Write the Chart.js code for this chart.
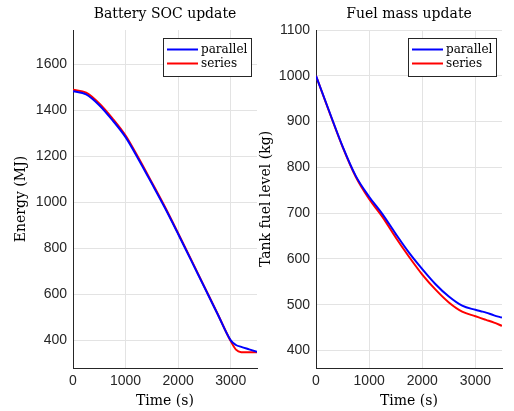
<!DOCTYPE html>
<html>
<head>
<meta charset="utf-8">
<script src="https://cdn.jsdelivr.net/npm/chart.js@4/dist/chart.umd.min.js"></script>
<style>
  body { margin: 0; background: #fff; }
  #wrap { position: relative; width: 514px; height: 411px; }
  .box { position: absolute; top: 0; height: 411px; }
</style>
</head>
<body>
<div id="wrap">
  <div class="box" style="left:0; width:262px;"><canvas id="soc"></canvas></div>
  <div class="box" style="left:257px; width:257px;"><canvas id="fuel"></canvas></div>
</div>
<script>
// data
const time = [0, 250, 500, 750, 1000, 1250, 1500, 1750, 2000, 2250, 2500, 2750, 3000, 3100, 3200, 3350, 3500];
const energyParallel = [1484, 1470, 1423, 1358, 1284, 1186, 1082, 976, 863, 747, 631, 515, 400, 380, 372, 361, 350];
const energySeries = [1490, 1478, 1431, 1366, 1291, 1192, 1087, 980, 866, 750, 633, 516, 397, 360, 349, 348, 348];
const fuelParallel = [1000, 922, 846, 781, 736, 698, 655, 614, 578, 545, 518, 498, 489, 486, 483, 477, 472];
const fuelSeries = [1000, 921, 845, 779, 731, 692, 647, 605, 566, 533, 505, 485, 475, 471, 467, 461, 454];

const timeTicks = [0, 1000, 2000, 3000];
const energyTicks = [400, 600, 800, 1000, 1200, 1400, 1600];
const fuelTicks = [400, 500, 600, 700, 800, 900, 1000, 1100];

const axisColor = "#262626";
const gridColor = "#e3e3e3";
const serif = "DejaVu Serif";

// legend drawn inside the plot, top right, MATLAB style
const insideLegend = {
    id: "insideLegend",
    afterDatasetsDraw(chart, args, opts) {
        const { ctx, chartArea } = chart;
        const w = 89, h = 39;
        const x = Math.round(chartArea.right - opts.right - w);
        const y = Math.round(chartArea.top + 8);
        ctx.save();
        ctx.fillStyle = "#fff";
        ctx.fillRect(x, y, w, h);
        ctx.strokeStyle = axisColor;
        ctx.lineWidth = 1;
        ctx.strokeRect(x + 0.5, y + 0.5, w - 1, h - 1);
        ctx.font = "12px '" + serif + "'";
        ctx.textBaseline = "middle";
        chart.data.datasets.forEach((ds, i) => {
            const cy = y + 11.5 + i * 14;
            ctx.strokeStyle = ds.borderColor;
            ctx.lineWidth = 2;
            ctx.beginPath();
            ctx.moveTo(x + 4, cy);
            ctx.lineTo(x + 35, cy);
            ctx.stroke();
            ctx.fillStyle = "#000";
            ctx.fillText(ds.label, x + 38, cy);
        });
        ctx.restore();
    }
};

function makeChart(id, title, yLabel, parallel, series, yMin, yMax, yTicks, yWidth, yTitlePad, padRight) {
    const ctx = document.getElementById(id).getContext("2d");
    return new Chart(ctx, {
        type: "line",
        data: {
            labels: time,
            datasets: [
                { label: "parallel", data: parallel, borderColor: "#0000ff", borderWidth: 2, pointRadius: 0, cubicInterpolationMode: "monotone" },
                { label: "series", data: series, borderColor: "#ff0000", borderWidth: 2, pointRadius: 0, cubicInterpolationMode: "monotone" }
            ]
        },
        options: {
            responsive: true,
            maintainAspectRatio: false,
            animation: false,
            layout: { padding: { left: 0, right: padRight, top: 0, bottom: 0 } },
            plugins: {
                legend: { display: false },
                tooltip: { enabled: false },
                title: {
                    display: true,
                    text: title,
                    fullSize: false,
                    color: "#000",
                    font: { family: serif, size: 14, weight: "normal", lineHeight: 1.2 },
                    padding: { top: 6.2, bottom: 7 }
                },
                insideLegend: { right: 5 }
            },
            scales: {
                x: {
                    type: "linear",
                    min: 0,
                    max: 3500,
                    afterBuildTicks: s => { s.ticks = timeTicks.map(v => ({ value: v })); },
                    afterFit: s => { s.height = 43; },
                    grid: { color: gridColor, drawTicks: false },
                    border: { color: axisColor, width: 1 },
                    ticks: { color: axisColor, padding: 5, maxRotation: 0, callback: v => String(v), font: { family: "Liberation Sans", size: 14 } },
                    title: { display: true, text: "Time (s)", color: "#000", padding: { top: 0, bottom: 1.6 }, font: { family: serif, size: 14, lineHeight: 1.2 } }
                },
                y: {
                    min: yMin,
                    max: yMax,
                    afterBuildTicks: s => { s.ticks = yTicks.map(v => ({ value: v })); },
                    afterFit: s => { s.width = yWidth; },
                    grid: { color: gridColor, drawTicks: false },
                    border: { color: axisColor, width: 1 },
                    ticks: { color: axisColor, padding: 6, callback: v => String(v), font: { family: "Liberation Sans", size: 14 } },
                    title: { display: true, text: yLabel, color: "#000", padding: { top: yTitlePad, bottom: 0 }, font: { family: serif, size: 14, lineHeight: 1.2 } }
                }
            }
        },
        plugins: [insideLegend]
    });
}

makeChart("soc", "Battery SOC update", "Energy (MJ)", energyParallel, energySeries, 280, 1750, energyTicks, 73, 12.6, 5);
makeChart("fuel", "Fuel mass update", "Tank fuel level (kg)", fuelParallel, fuelSeries, 362, 1100, fuelTicks, 59, 0.6, 12);
</script>
</body>
</html>
